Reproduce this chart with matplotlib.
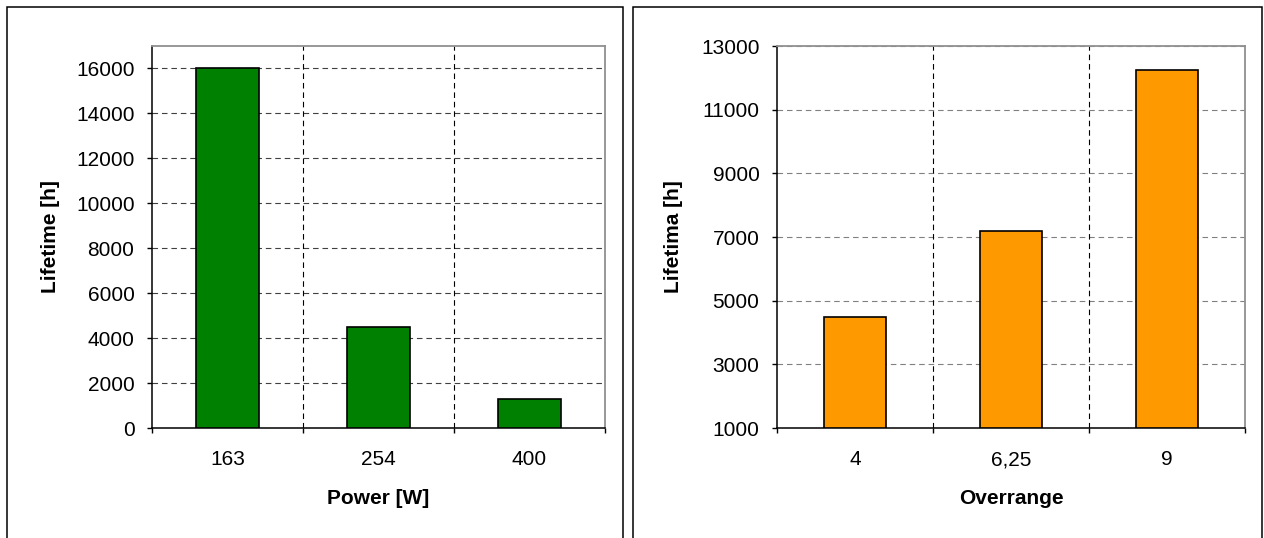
import matplotlib
matplotlib.use('Agg')

import matplotlib.pyplot as plt
from matplotlib.patches import Rectangle
import numpy as np

plt.rcParams['font.family'] = ['Liberation Sans', 'DejaVu Sans']

# power test
power_labels = ['163', '254', '400']
power_life = [16000, 4500, 1300]
power_ticks = [0, 2000, 4000, 6000, 8000, 10000, 12000, 14000, 16000]

# overrange test
over_labels = ['4', '6,25', '9']
over_life = [4500, 7200, 12250]
over_ticks = [1000, 3000, 5000, 7000, 9000, 11000, 13000]

W, H = 1264, 538
DPI = 100
fig = plt.figure(figsize=(W / DPI, H / DPI), dpi=DPI)


def px_axes(x0, y0, x1, y1):
    # pixel box (top-left origin) -> figure axes
    return fig.add_axes([x0 / W, 1 - y1 / H, (x1 - x0) / W, (y1 - y0) / H])


def frame(x0, x1):
    fig.patches.append(Rectangle((x0 / W, -0.1), (x1 - x0) / W, 1.1 - 7 / H,
                                 transform=fig.transFigure, fill=False,
                                 edgecolor='black', linewidth=1.1))


def bar_panel(ax, labels, vals, ticks, ylim, color, hgrid, xlabel, ylabel,
              bw, ylab_x):
    x = np.arange(len(vals))
    base = ylim[0]
    ax.bar(x, [v - base for v in vals], width=bw, bottom=base,
           color=color, edgecolor='black', linewidth=1.2, zorder=3)
    ax.set_xlim(-0.5, len(vals) - 0.5)
    ax.set_ylim(*ylim)
    ax.set_yticks(ticks)
    ax.set_yticklabels([str(t) for t in ticks], fontsize=15)
    ax.set_xticks(np.arange(len(vals) + 1) - 0.5)
    ax.set_xticklabels([])
    ax.set_xticks(x, minor=True)
    ax.set_xticklabels(labels, minor=True, fontsize=15)
    ax.tick_params(axis='both', which='major', direction='out', length=3.6,
                   width=1, pad=9)
    ax.tick_params(axis='x', which='minor', length=0, pad=16)
    for t in ticks[1:]:
        ax.axhline(t, color=hgrid, linewidth=0.8, dashes=(5, 3.5), zorder=1)
    for b in np.arange(1, len(vals)) - 0.5:
        ax.axvline(b, color='black', linewidth=0.8, dashes=(5, 3.5), zorder=1)
    for s in ['top', 'right']:
        ax.spines[s].set_color('#909090')
        ax.spines[s].set_linewidth(1.3)
    for s in ['left', 'bottom']:
        ax.spines[s].set_linewidth(1.1)
    ax.set_xlabel(xlabel, fontsize=15, fontweight='bold')
    ax.set_ylabel(ylabel, fontsize=15, fontweight='bold')
    ax.xaxis.set_label_coords(0.5, -0.16)
    ax.yaxis.set_label_coords(ylab_x, 0.5)


frame(7, 623)
frame(633, 1262)

ax1 = px_axes(152, 46, 605, 428)
bar_panel(ax1, power_labels, power_life, power_ticks, (0, 17000), '#008000',
          '#404040', 'Power [W]', 'Lifetime [h]', 0.42, -0.203)

ax2 = px_axes(777, 46, 1245, 428)
bar_panel(ax2, over_labels, over_life, over_ticks, (1000, 13000), '#FF9900',
          '#808080', 'Overrange', 'Lifetima [h]', 0.4, -0.201)

fig.savefig('out.png', dpi=DPI)
